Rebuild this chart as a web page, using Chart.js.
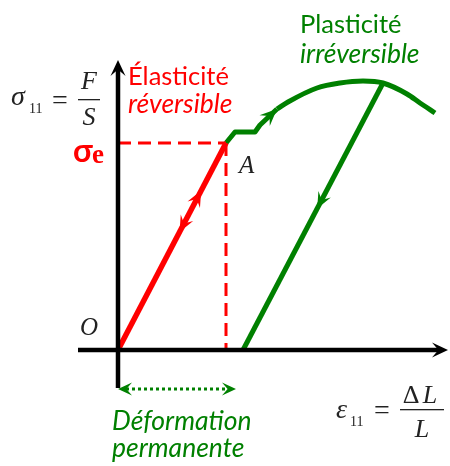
<!DOCTYPE html>
<html>
<head>
<meta charset="utf-8">
<script src="https://cdn.jsdelivr.net/npm/chart.js@4.4.1/dist/chart.umd.min.js"></script>
<style>
  html, body { margin: 0; background: #fff; }
  #wrap { width: 450px; height: 466px; }
</style>
</head>
<body>
<div id="wrap"><canvas id="chart"></canvas></div>
<script>
// strain (x) / stress (y), arbitrary units, origin O = (0, 0)
const xRange = [-4, 33];
const yRange = [-6, 29];
const yieldStrain = 10.8;   // point A
const yieldStress = 20.7;   // sigma_e
const permStrain = 11.8;    // end of "deformation permanente" arrow
const dottedLevel = -3.9;

const elasticPath = [[0, 0], [10.8, 20.7]];
const plateauPath = [[10.8, 20.7], [11.7, 21.8], [13.7, 21.8], [14.2, 22.5], [15.9, 24.1]];
const hardeningPath = [[15.9, 24.1], [17.0, 24.8], [19.9, 26.2], [22.2, 26.7], [24.5, 26.9],
                       [26.5, 26.7], [28.9, 25.6], [30.2, 24.7], [31.7, 23.7]];
const unloadPath = [[26.5, 26.7], [12.5, 0]];

const RED = '#ff0000';
const GREEN = '#008000';

const pts = arr => arr.map(p => ({ x: p[0], y: p[1] }));

function line(data, color, width, extra) {
    return Object.assign({
        data: pts(data),
        showLine: true,
        borderColor: color,
        borderWidth: width,
        pointRadius: 0,
        tension: 0,
        clip: false
    }, extra || {});
}

// filled "stealth" arrow head, tip at (x, y)
function stealth(ctx, x, y, ang, len, half, color) {
    ctx.save();
    ctx.translate(x, y);
    ctx.rotate(ang);
    ctx.beginPath();
    ctx.moveTo(0, 0);
    ctx.lineTo(-len, -half);
    ctx.lineTo(-len * 0.6, 0);
    ctx.lineTo(-len, half);
    ctx.closePath();
    ctx.fillStyle = color;
    ctx.fill();
    ctx.restore();
}

function arrowOn(chart, a, b, t, color, len, half) {
    const sx = chart.scales.x, sy = chart.scales.y;
    const x1 = sx.getPixelForValue(a[0]), y1 = sy.getPixelForValue(a[1]);
    const x2 = sx.getPixelForValue(b[0]), y2 = sy.getPixelForValue(b[1]);
    stealth(chart.ctx, x1 + (x2 - x1) * t, y1 + (y2 - y1) * t,
            Math.atan2(y2 - y1, x2 - x1), len, half, color);
}

function text(ctx, str, x, y, font, color, align) {
    ctx.font = font;
    ctx.fillStyle = color;
    ctx.textAlign = align || 'left';
    ctx.textBaseline = 'alphabetic';
    ctx.fillText(str, x, y);
}

const decorations = {
    id: 'decorations',
    afterDatasetsDraw(chart) {
        const ctx = chart.ctx;
        const sx = chart.scales.x, sy = chart.scales.y;

        // axis arrows
        arrowOn(chart, [xRange[0], 0], [xRange[1], 0], 1, '#000', 16, 7.5);
        arrowOn(chart, [0, -3.8], [0, yRange[1]], 1, '#000', 16, 7.5);

        // loading / unloading arrows
        arrowOn(chart, elasticPath[0], elasticPath[1], 0.77, RED, 16, 7);
        arrowOn(chart, elasticPath[1], elasticPath[0], 0.43, RED, 16, 7);
        arrowOn(chart, plateauPath[3], plateauPath[4], 1.0, GREEN, 17, 7.5);
        arrowOn(chart, unloadPath[0], unloadPath[1], 0.47, GREEN, 16, 7);

        // permanent deformation double arrow
        arrowOn(chart, [permStrain, dottedLevel], [0, dottedLevel], 1, GREEN, 14, 6.5);
        arrowOn(chart, [0, dottedLevel], [permStrain, dottedLevel], 1, GREEN, 14, 6.5);

        // labels
        const serif = '"Liberation Serif", "DejaVu Serif", serif';
        const sans = 'Lato, "Open Sans", sans-serif';

        text(ctx, '\u00c9lasticit\u00e9', 128, 85, '25.5px ' + sans, RED);
        text(ctx, 'r\u00e9versible', 128, 113, 'italic 26.5px ' + sans, RED);
        text(ctx, 'Plasticit\u00e9', 300, 33, '25.5px ' + sans, GREEN);
        text(ctx, 'irr\u00e9versible', 300, 63, 'italic 26.5px ' + sans, GREEN);
        text(ctx, 'D\u00e9formation', 112, 430, 'italic 26.5px ' + sans, GREEN);
        text(ctx, 'permanente', 112, 457, 'italic 26.5px ' + sans, GREEN);

        // sigma_e at the yield stress level
        const ye = sy.getPixelForValue(yieldStress);
        text(ctx, '\u03c3', 73, ye + 19, 'bold 32px ' + sans, RED);
        text(ctx, 'e', 92, ye + 20, 'bold 27px ' + serif, RED);

        // A and O
        text(ctx, 'A', sx.getPixelForValue(yieldStrain) + 13, ye + 30, 'italic 25px ' + serif, '#222');
        text(ctx, 'O', sx.getPixelForValue(0) - 38, sy.getPixelForValue(0) - 15, 'italic 25px ' + serif, '#222');

        // sigma_11 = F / S
        text(ctx, '\u03c3', 11, 105, 'italic 28px ' + serif, '#222');
        text(ctx, '11', 29, 113, '14px ' + serif, '#222');
        text(ctx, '=', 60, 109, '28px ' + serif, '#222', 'center');
        text(ctx, 'F', 89, 89, 'italic 26px ' + serif, '#222', 'center');
        text(ctx, 'S', 89, 125, 'italic 26px ' + serif, '#222', 'center');
        ctx.fillStyle = '#222';
        ctx.fillRect(78, 99, 22, 1.3);

        // epsilon_11 = dL / L
        text(ctx, '\u03b5', 336, 418, 'italic 28px ' + serif, '#222');
        text(ctx, '11', 350, 426, '14px ' + serif, '#222');
        text(ctx, '=', 382, 419, '28px ' + serif, '#222', 'center');
        text(ctx, '\u0394', 411, 403, '26px ' + serif, '#222', 'center');
        text(ctx, 'L', 430, 403, 'italic 26px ' + serif, '#222', 'center');
        text(ctx, 'L', 422, 437, 'italic 26px ' + serif, '#222', 'center');
        ctx.fillStyle = '#222';
        ctx.fillRect(400, 409, 44, 1.3);
    }
};

new Chart(document.getElementById('chart'), {
    type: 'scatter',
    data: {
        datasets: [
            line([[xRange[0], 0], [32.2, 0]], '#000', 4.5),
            line([[0, -3.8], [0, 28.2]], '#000', 4.5),
            line([[0, yieldStress], [yieldStrain, yieldStress]], RED, 3, { borderDash: [13, 7] }),
            line([[yieldStrain, yieldStress], [yieldStrain, 0]], RED, 3, { borderDash: [13, 7] }),
            line(elasticPath, RED, 5.5),
            line(plateauPath, GREEN, 5, { borderJoinStyle: 'round' }),
            line(hardeningPath, GREEN, 5, { cubicInterpolationMode: 'monotone' }),
            line(unloadPath, GREEN, 5),
            line([[0.8, dottedLevel], [permStrain - 0.8, dottedLevel]], GREEN, 3, { borderDash: [3, 3] })
        ]
    },
    options: {
        responsive: true,
        maintainAspectRatio: false,
        animation: false,
        layout: { padding: { left: 78, right: 2, top: 60, bottom: 56 } },
        plugins: {
            legend: { display: false },
            tooltip: { enabled: false }
        },
        scales: {
            x: { type: 'linear', min: xRange[0], max: xRange[1], display: false },
            y: { type: 'linear', min: yRange[0], max: yRange[1], display: false }
        }
    },
    plugins: [decorations]
});
</script>
</body>
</html>
